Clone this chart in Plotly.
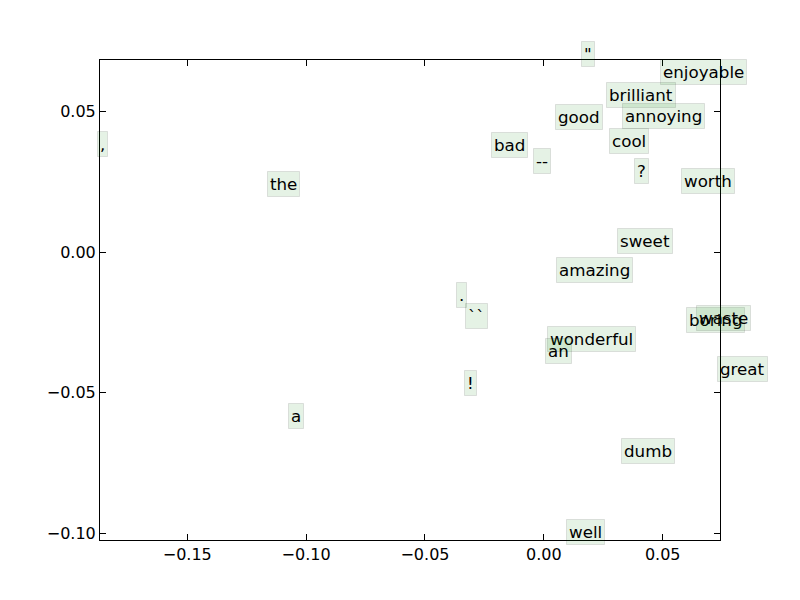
import plotly.graph_objects as go

# word positions (text start, baseline)
words = [",", "the", "\"", "enjoyable", "brilliant", "good", "annoying", "bad", "cool", "--",
         "?", "worth", "sweet", "amazing", ".", "``", "boring", "waste", "wonderful", "an",
         "great", "!", "a", "dumb", "well"]
xs = [-0.1865, -0.1151, 0.0168, 0.0500, 0.0273, 0.0059, 0.0340, -0.0210, 0.0286, -0.0034,
      0.0391, 0.0588, 0.0319, 0.0063, -0.0357, -0.0319, 0.0609, 0.0651, 0.0025, 0.0017,
      0.0739, -0.0324, -0.1063, 0.0336, 0.0105]
ys = [0.0358, 0.0216, 0.0680, 0.0613, 0.0532, 0.0454, 0.0457, 0.0355, 0.0369, 0.0298,
      0.0262, 0.0227, 0.0014, -0.0089, -0.0177, -0.0252, -0.0266, -0.0259, -0.0333, -0.0376,
      -0.0440, -0.0489, -0.0606, -0.0730, -0.1021]

x_ticks = [-0.15, -0.10, -0.05, 0.00, 0.05]
y_ticks = [-0.10, -0.05, 0.00, 0.05]

FONT = "DejaVu Sans"
EPS = 0.0002

fig = go.Figure()
fig.add_trace(go.Scatter(x=xs, y=ys, mode="markers", marker=dict(size=1, opacity=0),
                         hoverinfo="skip", showlegend=False))

for w, x, y in zip(words, xs, ys):
    fig.add_annotation(
        x=x, y=y, text=w, showarrow=False,
        xanchor="left", yanchor="bottom", xshift=-3, yshift=-6,
        font=dict(family=FONT, size=16.7, color="black"),
        bgcolor="rgba(0,128,0,0.1)", bordercolor="rgba(0,0,0,0.1)",
        borderwidth=1, borderpad=2,
    )

axis_style = dict(
    showline=True, linecolor="black", linewidth=1, mirror="allticks",
    ticks="inside", ticklen=6, tickcolor="black", showgrid=False, zeroline=False,
    tickformat=".2f", tickfont=dict(family=FONT, size=16, color="black"),
)

fig.update_xaxes(range=[min(xs) - EPS, max(xs) + EPS], tickvals=x_ticks, **axis_style)
fig.update_yaxes(range=[min(ys) - EPS, max(ys) + EPS], tickvals=y_ticks, **axis_style)

# page body has an 8px margin, so trim the figure to land the axes where the reference has them
fig.update_layout(
    width=792, height=592,
    paper_bgcolor="white", plot_bgcolor="white",
    margin=dict(l=92, r=80, t=52, b=60),
    showlegend=False,
)

fig.write_html("out.html")
